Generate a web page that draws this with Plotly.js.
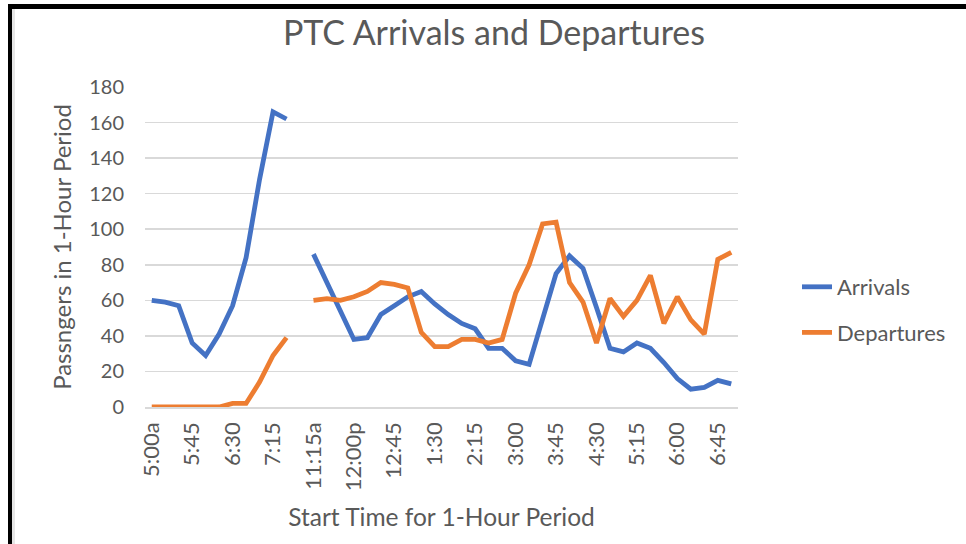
<!DOCTYPE html>
<html>
<head>
<meta charset="utf-8">
<script src="https://cdn.plot.ly/plotly-3.0.1.min.js"></script>
<style>
  html, body { margin: 0; padding: 0; background: #fff; }
  #wrap { position: relative; width: 966px; height: 544px; overflow: hidden; }
  #chart { position: absolute; left: 0; top: 0; width: 966px; height: 544px; }
  .bd { position: absolute; pointer-events: none; }
</style>
</head>
<body>
<div id="wrap">
  <div id="chart"></div>
  <div class="bd" style="left:8px; top:4px; width:958px; height:5px; background:#000;"></div>
  <div class="bd" style="left:8px; top:4px; width:4px; height:540px; background:#000;"></div>
  <div class="bd" style="left:12px; top:9px; width:3px; height:535px; background:#e6e6e6;"></div>
</div>
<script>
const timeLabels = ["5:00a","5:15","5:30","5:45","6:00","6:15","6:30","6:45","7:00","7:15","7:30","",
  "11:15a","11:30","11:45","12:00p","12:15","12:30","12:45","1:00","1:15","1:30","1:45","2:00","2:15","2:30","2:45",
  "3:00","3:15","3:30","3:45","4:00","4:15","4:30","4:45","5:00","5:15","5:30","5:45","6:00","6:15","6:30","6:45","7:00"];
const arrivals = [60,59,57,36,29,41,57,84,128,166,162,null,
  86,70,54,38,39,52,57,62,65,58,52,47,44,33,33,26,24,49,75,85,78,56,33,31,36,33,25,16,10,11,15,13];
const departures = [0,0,0,0,0,0,2,2,14,29,39,null,
  60,61,60,62,65,70,69,67,42,34,34,38,38,36,38,64,80,103,104,70,59,36,61,51,60,74,47,62,49,41,83,87];
const yTicks = [0,20,40,60,80,100,120,140,160,180];

const xIdx = timeLabels.map((_, i) => i);
const tickVals = xIdx.filter(i => i % 3 === 0);
const tickText = tickVals.map(i => timeLabels[i]);

const FONT = "Lato, 'Open Sans', sans-serif";
const GREY = "#595959";

const traces = [
  {x: xIdx, y: arrivals, type: "scatter", mode: "lines", name: "Arrivals", legendgroup: "a",
   line: {color: "#4472C4", width: 4.8}, connectgaps: false},
  {x: xIdx, y: departures, type: "scatter", mode: "lines", name: "Departures", legendgroup: "b",
   line: {color: "#ED7D31", width: 4.8}, connectgaps: false}
];

const layout = {
  width: 966, height: 544,
  margin: {l: 145, r: 228, t: 87, b: 137},
  paper_bgcolor: "#fff", plot_bgcolor: "#fff",
  font: {family: FONT, color: GREY, size: 20},
  title: {text: "PTC Arrivals and Departures", font: {family: FONT, size: 34, color: GREY},
          x: 494/966, xanchor: "center", y: 1 - 33/544, yanchor: "middle", xref: "container", yref: "container"},
  xaxis: {
    range: [-0.5, timeLabels.length - 0.5],
    tickmode: "array", tickvals: tickVals, ticktext: tickText, tickangle: -90,
    showgrid: false, zeroline: false, showline: true, linecolor: "#d9d9d9", linewidth: 1.5,
    ticks: "", ticklabelstandoff: 5,
    tickfont: {family: FONT, size: 22, color: GREY},
    title: {text: "Start Time for 1-Hour Period", font: {family: FONT, size: 24.5, color: GREY}, standoff: 18}
  },
  yaxis: {
    range: [0, 180], tickmode: "array", tickvals: yTicks, ticktext: yTicks.map(String),
    showgrid: true, gridcolor: "#d9d9d9", gridwidth: 1.5, zeroline: false, showline: false,
    ticks: "", ticklabelstandoff: 20,
    tickfont: {family: FONT, size: 20, color: GREY},
    title: {text: "Passngers in 1-Hour Period", font: {family: FONT, size: 24, color: GREY}, standoff: 10}
  },
  showlegend: true,
  legend: {
    xref: "container", yref: "container",
    x: 797/966, xanchor: "left", y: 1 - 266/544, yanchor: "top",
    font: {family: FONT, size: 22, color: GREY},
    traceorder: "grouped", tracegroupgap: 14,
    bgcolor: "rgba(0,0,0,0)", borderwidth: 0
  }
};

Plotly.newPlot("chart", traces, layout, {displayModeBar: false, staticPlot: true});
</script>
</body>
</html>
